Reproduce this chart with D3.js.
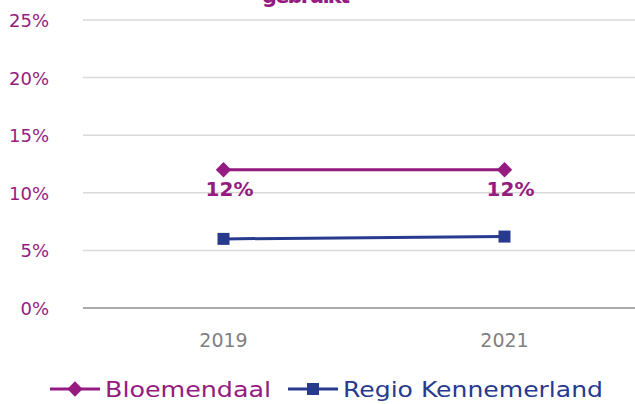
<!DOCTYPE html>
<meta charset="utf-8">
<style>
body { margin: 0; background: #fff; }
svg text { font-family: "DejaVu Sans", sans-serif; }
.grid line { stroke: #d9d9d9; stroke-width: 1.5; }
</style>
<svg width="635" height="404"></svg>
<script src="https://d3js.org/d3.v7.min.js"></script>
<script>
var years = ["2019", "2021"];
var bloemendaal = [12, 12];
var regio = [6.0, 6.2];
var yTicks = [0, 5, 10, 15, 20, 25];
var seriesNames = ["Bloemendaal", "Regio Kennemerland"];

var purple = "#951b81", navy = "#283a8e";
var svg = d3.select("svg");
var plotLeft = 83, plotRight = 645, plotTop = 20, plotBottom = 308;

var x = d3.scalePoint().domain(years).range([plotLeft, plotRight]).padding(0.5);
var y = d3.scaleLinear().domain([0, 25]).range([plotBottom, plotTop]);

// title, mostly cut off at the top
svg.append("text")
  .attr("x", 306).attr("y", 3)
  .attr("text-anchor", "middle")
  .attr("fill", purple).attr("font-weight", "bold").attr("font-size", 21)
  .attr("textLength", 88)
  .text("gebruikt");

// gridlines
svg.append("g").attr("class", "grid")
  .selectAll("line").data(yTicks.filter(function(d) { return d > 0; }))
  .enter().append("line")
  .attr("x1", plotLeft).attr("x2", 635)
  .attr("y1", function(d) { return y(d); }).attr("y2", function(d) { return y(d); });

svg.append("line")
  .attr("x1", plotLeft).attr("x2", 635)
  .attr("y1", y(0)).attr("y2", y(0))
  .attr("stroke", "#8c8c8c").attr("stroke-width", 1.5);

// y labels
svg.append("g").selectAll("text").data(yTicks)
  .enter().append("text")
  .attr("x", 49).attr("y", function(d) { return y(d) + 7; })
  .attr("text-anchor", "end")
  .attr("fill", purple).attr("font-size", 18)
  .text(function(d) { return d + "%"; });

// x labels
svg.append("g").selectAll("text").data(years)
  .enter().append("text")
  .attr("x", function(d) { return x(d); }).attr("y", 347)
  .attr("text-anchor", "middle")
  .attr("fill", "#7f7f7f").attr("font-size", 19)
  .text(function(d) { return d; });

var line = d3.line()
  .x(function(d, i) { return x(years[i]); })
  .y(function(d) { return y(d); });

// Regio Kennemerland
svg.append("path").datum(regio)
  .attr("d", line).attr("fill", "none")
  .attr("stroke", navy).attr("stroke-width", 3);
svg.append("g").selectAll("rect").data(regio)
  .enter().append("rect")
  .attr("x", function(d, i) { return x(years[i]) - 6; })
  .attr("y", function(d) { return y(d) - 6; })
  .attr("width", 12).attr("height", 12)
  .attr("fill", navy);

// Bloemendaal
svg.append("path").datum(bloemendaal)
  .attr("d", line).attr("fill", "none")
  .attr("stroke", purple).attr("stroke-width", 3);
var diamond = d3.symbol().type(d3.symbolDiamond2).size(150);
svg.append("g").selectAll("path").data(bloemendaal)
  .enter().append("path")
  .attr("d", diamond)
  .attr("transform", function(d, i) { return "translate(" + x(years[i]) + "," + y(d) + ")"; })
  .attr("fill", purple);

svg.append("g").selectAll("text").data(bloemendaal)
  .enter().append("text")
  .attr("x", function(d, i) { return x(years[i]) + 6; })
  .attr("y", function(d) { return y(d) + 26; })
  .attr("text-anchor", "middle")
  .attr("fill", purple).attr("font-weight", "bold").attr("font-size", 20)
  .text(function(d) { return d + "%"; });

// legend
var legX = [50, 288], legW = [166, 260], colors = [purple, navy];
var leg = svg.append("g").selectAll("g").data(seriesNames)
  .enter().append("g")
  .attr("transform", function(d, i) { return "translate(" + legX[i] + ",389)"; });
leg.append("line")
  .attr("x1", 0).attr("x2", 50)
  .attr("stroke", function(d, i) { return colors[i]; }).attr("stroke-width", 3);
leg.append("path")
  .attr("d", function(d, i) {
    return i === 0 ? diamond() : d3.symbol().type(d3.symbolSquare).size(144)();
  })
  .attr("transform", "translate(25,0)")
  .attr("fill", function(d, i) { return colors[i]; });
leg.append("text")
  .attr("x", 55).attr("y", 8)
  .attr("fill", function(d, i) { return colors[i]; }).attr("font-size", 22)
  .attr("textLength", function(d, i) { return legW[i]; })
  .attr("lengthAdjust", "spacingAndGlyphs")
  .text(function(d) { return d; });
</script>
